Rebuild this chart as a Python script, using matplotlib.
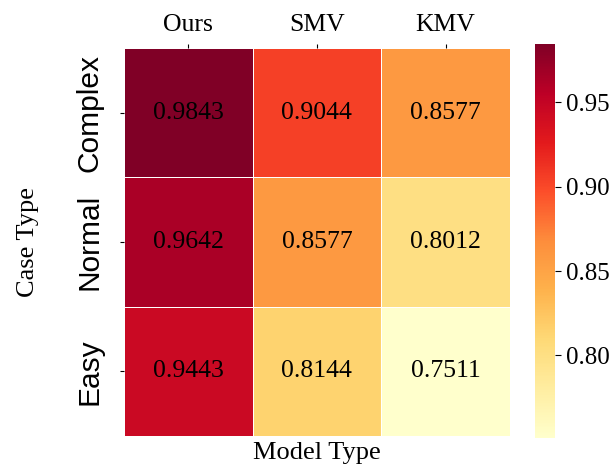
import matplotlib
matplotlib.use('Agg')
import matplotlib.pyplot as plt
import numpy as np
import seaborn as sns

models = ['Ours', 'SMV', 'KMV']
cases = ['Complex', 'Normal', 'Easy']
complex_vals = [0.9843, 0.9044, 0.8577]
normal_vals = [0.9642, 0.8577, 0.8012]
easy_vals = [0.9443, 0.8144, 0.7511]

data = np.array([complex_vals, normal_vals, easy_vals])

serif = ['Liberation Serif', 'DejaVu Serif']
sans = ['Liberation Sans', 'DejaVu Sans']

fig = plt.figure(figsize=(6.12, 4.7), dpi=100)
ax = fig.add_axes([0.2026, 0.0723, 0.6305, 0.8255])
cax = fig.add_axes([0.874, 0.068, 0.033, 0.838])

sns.heatmap(data, ax=ax, cbar_ax=cax, cmap='YlOrRd', annot=True, fmt='.4f',
            linewidths=0.7, linecolor='white',
            annot_kws={'fontsize': 18.5, 'family': serif, 'color': 'black'},
            xticklabels=models, yticklabels=cases)

ax.xaxis.tick_top()
ax.set_xticklabels(models, fontsize=18.5, family=serif)
ax.set_yticklabels(cases, fontsize=21.5, family=sans, rotation=90, va='center')
ax.set_xlabel('Model Type', fontsize=19, family=serif, labelpad=4)
ax.set_ylabel('Case Type', fontsize=19, family=serif, labelpad=26)
ax.xaxis.set_label_position('bottom')
ax.tick_params(axis='x', length=3, width=0.8, pad=6)
ax.tick_params(axis='y', length=3, width=0.8, pad=12)

cax.set_yticks([0.80, 0.85, 0.90, 0.95])
cax.set_yticklabels(['0.80', '0.85', '0.90', '0.95'], fontsize=18, family=serif)
cax.tick_params(length=4, width=0.8)

fig.savefig('out.png', dpi=100)
